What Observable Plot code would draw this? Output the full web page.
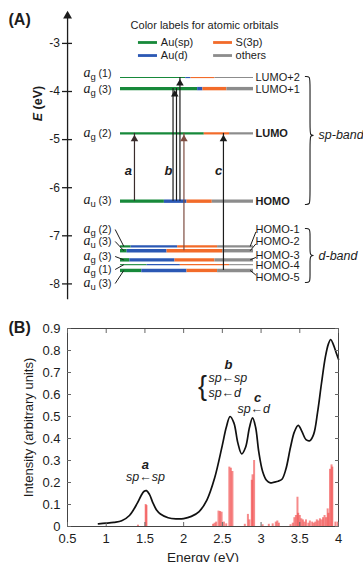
<!DOCTYPE html>
<html><head><meta charset="utf-8">
<script src="https://cdn.jsdelivr.net/npm/d3@7"></script>
<script src="https://cdn.jsdelivr.net/npm/@observablehq/plot@0.6"></script>
<style>
html,body{margin:0;padding:0;background:#fff;}
#chart{width:363px;height:562px;overflow:hidden;position:relative;background:#fff;}
#chart svg{display:block;}
</style></head>
<body><div id="chart"></div>
<script>
// ================= DATA =================
// Panel A: Kohn–Sham levels and their atomic-orbital composition
const orbitals = ["Au(sp)", "Au(d)", "S(3p)", "others"];
const levelNames = ["LUMO+2","LUMO+1","LUMO","HOMO","HOMO-1","HOMO-2","HOMO-3","HOMO-4","HOMO-5"];
const levelEnergies = [-3.71, -3.94, -4.87, -6.28, -7.22, -7.31, -7.50, -7.60, -7.72];
const levelSymmetry = ["g","g","g","u","g","u","g","g","u"];
const levelDegeneracy = [1, 3, 2, 3, 2, 3, 3, 1, 3];
// % of Au(sp), Au(d), S(3p), others
const levelComposition = [
  [49, 4, 18, 29],
  [58, 4, 18, 20],
  [63, 0, 19, 18],
  [33, 17, 19, 31],
  [8, 35, 30, 27],
  [5, 30, 42, 23],
  [7, 34, 30, 29],
  [20, 25, 37, 18],
  [16, 34, 23, 27]
];
const energyTicks = [-3, -4, -5, -6, -7, -8];
const transitionFrom = ["HOMO","HOMO","HOMO","HOMO","HOMO-2","HOMO-5"];
const transitionTo   = ["LUMO","LUMO+1","LUMO+1","LUMO+2","LUMO","LUMO"];
const transitionNames = ["a", "b", "c"];
const bandNames = ["sp-band", "d-band"];
const frontierNames = ["LUMO", "HOMO"];

// Panel B: absorption spectrum (curve) and oscillator strengths (sticks)
const specEnergy = [0.9,1.0,1.1,1.2,1.3,1.4,1.45,1.49,1.52,1.56,1.6,1.65,1.7,1.8,1.9,2.0,2.1,2.2,2.3,2.4,2.5,2.55,2.6,2.65,2.7,2.75,2.8,2.85,2.89,2.93,2.97,3.02,3.07,3.12,3.17,3.22,3.27,3.32,3.38,3.43,3.48,3.53,3.58,3.63,3.68,3.73,3.78,3.83,3.87,3.9,3.93,3.97,4.0];
const specIntensity = [0.012,0.015,0.019,0.026,0.05,0.105,0.14,0.16,0.163,0.145,0.11,0.075,0.057,0.04,0.035,0.036,0.046,0.068,0.12,0.22,0.37,0.45,0.50,0.47,0.38,0.33,0.36,0.45,0.494,0.45,0.34,0.25,0.21,0.198,0.202,0.206,0.215,0.26,0.36,0.43,0.46,0.43,0.395,0.39,0.42,0.52,0.65,0.77,0.83,0.85,0.83,0.79,0.76];
const stickEnergy = [1.41,1.51,1.52,2.38,2.40,2.42,2.45,2.47,2.49,2.52,2.55,2.59,2.61,2.63,2.79,2.83,2.85,2.88,2.89,2.91,3.02,3.10,3.15,3.19,3.21,3.23,3.38,3.41,3.43,3.45,3.47,3.48,3.50,3.52,3.54,3.56,3.58,3.61,3.63,3.66,3.68,3.70,3.72,3.74,3.76,3.78,3.80,3.82,3.84,3.86,3.87,3.89,3.91,3.92,3.96,3.99];
const stickStrength = [0.006,0.10,0.095,0.01,0.015,0.02,0.07,0.068,0.065,0.02,0.012,0.27,0.265,0.25,0.01,0.055,0.03,0.21,0.235,0.30,0.008,0.01,0.012,0.02,0.025,0.015,0.008,0.015,0.04,0.05,0.133,0.06,0.05,0.035,0.03,0.02,0.03,0.015,0.025,0.02,0.015,0.02,0.03,0.025,0.035,0.03,0.04,0.05,0.04,0.08,0.06,0.26,0.28,0.27,0.02,0.02];
const energyAxisTicks = [0.5, 1, 1.5, 2, 2.5, 3, 3.5, 4];
const intensityTicks = [0, 0.1, 0.2, 0.3, 0.4, 0.5, 0.6, 0.7, 0.8, 0.9];
const peakNames = ["a", "b", "c"];
const peakTransitions = [["sp←sp"], ["sp←sp", "sp←d"], ["sp←d"]];

// ================= STYLE / LAYOUT =================
const FONT = "'Liberation Sans', Arial, Helvetica, sans-serif";
const INK = "#1c1c1c";
const orbitalColors = ["#17893a", "#2b58b4", "#f26b2a", "#8c8c8c"];
const degWidth = {1: 1.1, 2: 2.2, 3: 3.4};
const LA = { // panel A layout (x in % of level length, y in eV)
  yDomain: [-8.345, -2.108],
  axisU: -39.8, axisTopE: -2.44, axisBottomE: -8.33, axisHeadE: -2.43,
  tickU: [-43.6, -36.1], tickLabelU: -45.5,
  eLabelU: -62.4, eLabelE: -4.25,
  tagU: -84.2, tagE: -2.52,
  legendTitle: [63.2, -2.628], legendRowE: [-2.981, -3.252],
  legendLineU: [[13.5, 27.8], [70, 84.2]], legendTextU: [30.3, 86.5],
  leftLabelU: -6.8, leftLabelE: [-3.63, -3.965, -4.867, -6.266, -6.869, -7.118, -7.43, -7.701, -7.992],
  leftLeader: [-4, 2.5],
  rightLabelU: 101.5, rightLabelE: [-3.71, -3.96, -4.87, -6.28, -6.869, -7.118, -7.40, -7.62, -7.867],
  rightLeader: [97.5, 101.8],
  arrowLineU: [10.5, 39.5, 42.1, 44.7, 47.7, 77.4],
  arrowHeadU: [10.5, 40.8, 40.8, 44.7, 47.7, 77.4],
  arrowColors: ["#3a2c2c", INK, INK, INK, "#7d4c40", INK],
  transLabelU: [6.0, 36.1, 73.7], transLabelE: -5.642,
  brace: [{top: -3.688, bottom: -6.349, tip: -4.912}, {top: -6.848, bottom: -7.971, tip: -7.41}],
  braceU: 139, braceW: 7, braceR: 0.13, bandLabelU: 148.9
};
const LB = { // panel B layout (x in eV, y in intensity)
  tag: [-0.262, 0.901],
  peakLabel: [[1.507, 0.282], [2.58, 0.736], [2.954, 0.586]],
  peakTrans: [[[1.507, 0.223, "middle"]], [[2.32, 0.673, "start"], [2.32, 0.605, "start"]], [[2.905, 0.532, "middle"]]],
  curly: [2.245, 0.636]
};

// ================= PANEL A =================
const levelIndex = Object.fromEntries(levelNames.map((n, i) => [n, i]));
const segments = [];
levelNames.forEach((name, i) => {
  let c = 0;
  levelComposition[i].forEach((p, k) => {
    if (p > 0) segments.push({E: levelEnergies[i], x1: c, x2: c + p, color: orbitalColors[k], w: degWidth[levelDegeneracy[i]]});
    c += p;
  });
});
const arrows = transitionFrom.map((f, i) => ({
  from: levelEnergies[levelIndex[f]], to: levelEnergies[levelIndex[transitionTo[i]]],
  u: LA.arrowLineU[i], hu: LA.arrowHeadU[i], color: LA.arrowColors[i]
}));
const heads = Array.from(new Map(arrows.map(a => [a.hu + "|" + a.to, a])).values());
const levels = levelNames.map((n, i) => ({name: n, i, E: levelEnergies[i], sym: levelSymmetry[i], deg: levelDegeneracy[i]}));
const dLevels = levels.filter(l => l.i >= 4);
const isFrontier = d => frontierNames.includes(d.name);
LA.brace.forEach((b, k) => { b.name = bandNames[k]; });

function brace(b) {
  const x0 = LA.braceU, xm = x0 + LA.braceW / 2, x1 = x0 + LA.braceW, r = LA.braceR;
  return [[x0, b.top], [xm, b.top], [xm, b.top - r], [xm, b.tip + r], [xm, b.tip], [x1, b.tip],
          [xm, b.tip], [xm, b.tip - r], [xm, b.bottom + r], [xm, b.bottom], [x0, b.bottom]];
}

const plotA = Plot.plot({
  width: 363, height: 300, marginLeft: 120, marginRight: 110, marginTop: 0, marginBottom: 0,
  x: {domain: [0, 100], axis: null},
  y: {domain: LA.yDomain, axis: null},
  color: {type: "identity"},
  style: {fontFamily: FONT, fontSize: "11px", color: INK, background: "transparent", overflow: "visible"},
  marks: [
    // legend
    Plot.text(["Color labels for atomic orbitals"], {x: LA.legendTitle[0], y: LA.legendTitle[1], fontSize: 11, fill: INK}),
    Plot.ruleY(orbitals, {y: (d, i) => LA.legendRowE[i % 2], x1: (d, i) => LA.legendLineU[i >> 1][0], x2: (d, i) => LA.legendLineU[i >> 1][1], stroke: (d, i) => orbitalColors[i], strokeWidth: 2.8}),
    Plot.text(orbitals, {x: (d, i) => LA.legendTextU[i >> 1], y: (d, i) => LA.legendRowE[i % 2], text: d => d, textAnchor: "start", fontSize: 11, fill: INK}),
    // energy axis
    Plot.ruleX([LA.axisU], {y1: LA.axisBottomE, y2: LA.axisTopE, stroke: INK, strokeWidth: 1.3}),
    Plot.dot([LA.axisHeadE], {x: LA.axisU, y: d => d, symbol: "triangle", r: 3.3, fill: INK, stroke: "none"}),
    Plot.ruleY(energyTicks, {y: d => d, x1: LA.tickU[0], x2: LA.tickU[1], stroke: INK, strokeWidth: 1.3}),
    Plot.text(energyTicks, {y: d => d, x: LA.tickLabelU, text: d => String(d), textAnchor: "end", fontSize: 12, fill: INK}),
    Plot.text(["E (eV)"], {x: LA.eLabelU, y: LA.eLabelE, rotate: -90, fontSize: 12.5, fontWeight: "bold", fill: INK}),
    Plot.text(["(A)"], {x: LA.tagU, y: LA.tagE, textAnchor: "start", fontSize: 16, fontWeight: "bold", fill: INK}),
    // levels
    Plot.ruleY(segments, {y: "E", x1: "x1", x2: "x2", stroke: "color", strokeWidth: "w"}),
    // transitions
    Plot.ruleX(arrows, {x: "u", y1: "from", y2: "to", stroke: "color", strokeWidth: 1.2}),
    Plot.dot(heads, {x: "hu", y: "to", symbol: "triangle", r: 2.8, fill: "color", stroke: "none", dy: 5.8}),
    Plot.text(transitionNames, {x: (d, i) => LA.transLabelU[i], y: LA.transLabelE, text: d => d, fontSize: 13, fontWeight: "bold", fontStyle: "italic", fill: INK}),
    // left symmetry labels
    Plot.text(levels, {x: LA.leftLabelU, y: d => LA.leftLabelE[d.i], text: d => `a_${d.sym} (${d.deg})`, textAnchor: "end", fontSize: 10.5, fill: INK}),
    Plot.link(dLevels, {x1: LA.leftLeader[0], y1: d => LA.leftLabelE[d.i], x2: LA.leftLeader[1], y2: "E", stroke: INK, strokeWidth: 1}),
    // right level names
    Plot.text(levels.filter(d => !isFrontier(d)), {x: LA.rightLabelU, y: d => LA.rightLabelE[d.i], text: "name", textAnchor: "start", fontSize: 11, fill: INK}),
    Plot.text(levels.filter(isFrontier), {x: LA.rightLabelU, y: d => LA.rightLabelE[d.i], text: "name", textAnchor: "start", fontSize: 11, fontWeight: "bold", fill: INK}),
    Plot.link(dLevels.filter(d => Math.abs(LA.rightLabelE[d.i] - d.E) > 0.05), {x1: LA.rightLeader[0], y1: "E", x2: LA.rightLeader[1], y2: d => LA.rightLabelE[d.i] + (LA.rightLabelE[d.i] > d.E ? -0.05 : 0.05), stroke: INK, strokeWidth: 1}),
    // bands
    ...LA.brace.map(b => Plot.line(brace(b), {x: d => d[0], y: d => d[1], curve: "basis", stroke: INK, strokeWidth: 1.1})),
    Plot.text(LA.brace, {x: LA.bandLabelU, y: "tip", text: "name", textAnchor: "start", fontSize: 12.5, fontStyle: "italic", fill: INK})
  ]
});

// ================= PANEL B =================
const spectrum = specEnergy.map((e, i) => ({e, i: specIntensity[i]}));
const sticks = stickEnergy.map((e, i) => ({e, s: stickStrength[i]}));
const peakLines = [];
peakTransitions.forEach((arr, k) => arr.forEach((t, j) => { const p = LB.peakTrans[k][j]; peakLines.push({t, x: p[0], y: p[1], anchor: p[2]}); }));

const plotB = Plot.plot({
  width: 363, height: 262, marginTop: 28, marginBottom: 36, marginLeft: 67, marginRight: 25,
  x: {domain: [0.5, 4]},
  y: {domain: [0, 0.9]},
  style: {fontFamily: FONT, fontSize: "12px", color: INK, background: "transparent", overflow: "visible"},
  marks: [
    Plot.ruleX(sticks, {x: "e", y1: 0, y2: "s", stroke: "#f03c3c", strokeOpacity: 0.6, strokeWidth: 2}),
    Plot.line(spectrum, {x: "e", y: "i", curve: "catmull-rom", stroke: "#111", strokeWidth: 1.7}),
    Plot.frame({stroke: "#444", strokeWidth: 1}),
    Plot.axisX({ticks: energyAxisTicks, tickSize: -4, tickPadding: 11, tickFormat: d => String(d), label: null, fontSize: 13, stroke: "#666"}),
    Plot.axisX({anchor: "top", ticks: energyAxisTicks, tickSize: -4, tickFormat: () => "", label: null, stroke: "#666"}),
    Plot.axisY({ticks: intensityTicks, tickSize: -4, tickPadding: 11, tickFormat: d => d === 0 ? "0" : d.toFixed(1), label: null, fontSize: 13, stroke: "#666"}),
    Plot.axisY({anchor: "right", ticks: intensityTicks, tickSize: -4, tickFormat: () => "", label: null, stroke: "#666"}),
    Plot.text(["Energy (eV)"], {x: 2.25, frameAnchor: "bottom", dy: 31, lineAnchor: "middle", fontSize: 13.5, fill: INK}),
    Plot.text(["Intensity (arbitrary units)"], {y: 0.45, frameAnchor: "left", dx: -39, rotate: -90, textAnchor: "middle", fontSize: 13, fill: INK}),
    Plot.text(["(B)"], {x: LB.tag[0], y: LB.tag[1], textAnchor: "start", fontSize: 16, fontWeight: "bold", fill: INK}),
    Plot.text(peakNames, {x: (d, i) => LB.peakLabel[i][0], y: (d, i) => LB.peakLabel[i][1], text: d => d, fontSize: 13, fontWeight: "bold", fontStyle: "italic", fill: INK}),
    Plot.text(peakLines.filter(d => d.anchor === "middle"), {x: "x", y: "y", text: "t", textAnchor: "middle", fontSize: 12.5, fontStyle: "italic", fill: INK}),
    Plot.text(peakLines.filter(d => d.anchor === "start"), {x: "x", y: "y", text: "t", textAnchor: "start", fontSize: 12.5, fontStyle: "italic", fill: INK}),
    Plot.text(["{"], {x: LB.curly[0], y: LB.curly[1], fontSize: 27, fontWeight: "normal", fill: INK})
  ]
});

// ---- rich-text touches (italic symbols, subscripts) ----
d3.select(plotA).selectAll("text").each(function () {
  const t = this.textContent;
  const m = /^a_([gu]) \((\d)\)$/.exec(t);
  if (m) {
    const s = d3.select(this); s.text("");
    s.append("tspan").attr("font-family", "'Liberation Serif', serif").attr("font-style", "italic").attr("font-size", 14).text("a");
    s.append("tspan").attr("font-size", 9.5).attr("dy", 3).text(m[1]);
    s.append("tspan").attr("font-size", 10.5).attr("dy", -3).text(" (" + m[2] + ")");
  } else if (t === "E (eV)") {
    const s = d3.select(this); s.text("");
    s.append("tspan").attr("font-style", "italic").text("E");
    s.append("tspan").text(" (eV)");
  }
});

const root = document.getElementById("chart");
root.appendChild(plotA);
root.appendChild(plotB);
</script>
</body></html>
